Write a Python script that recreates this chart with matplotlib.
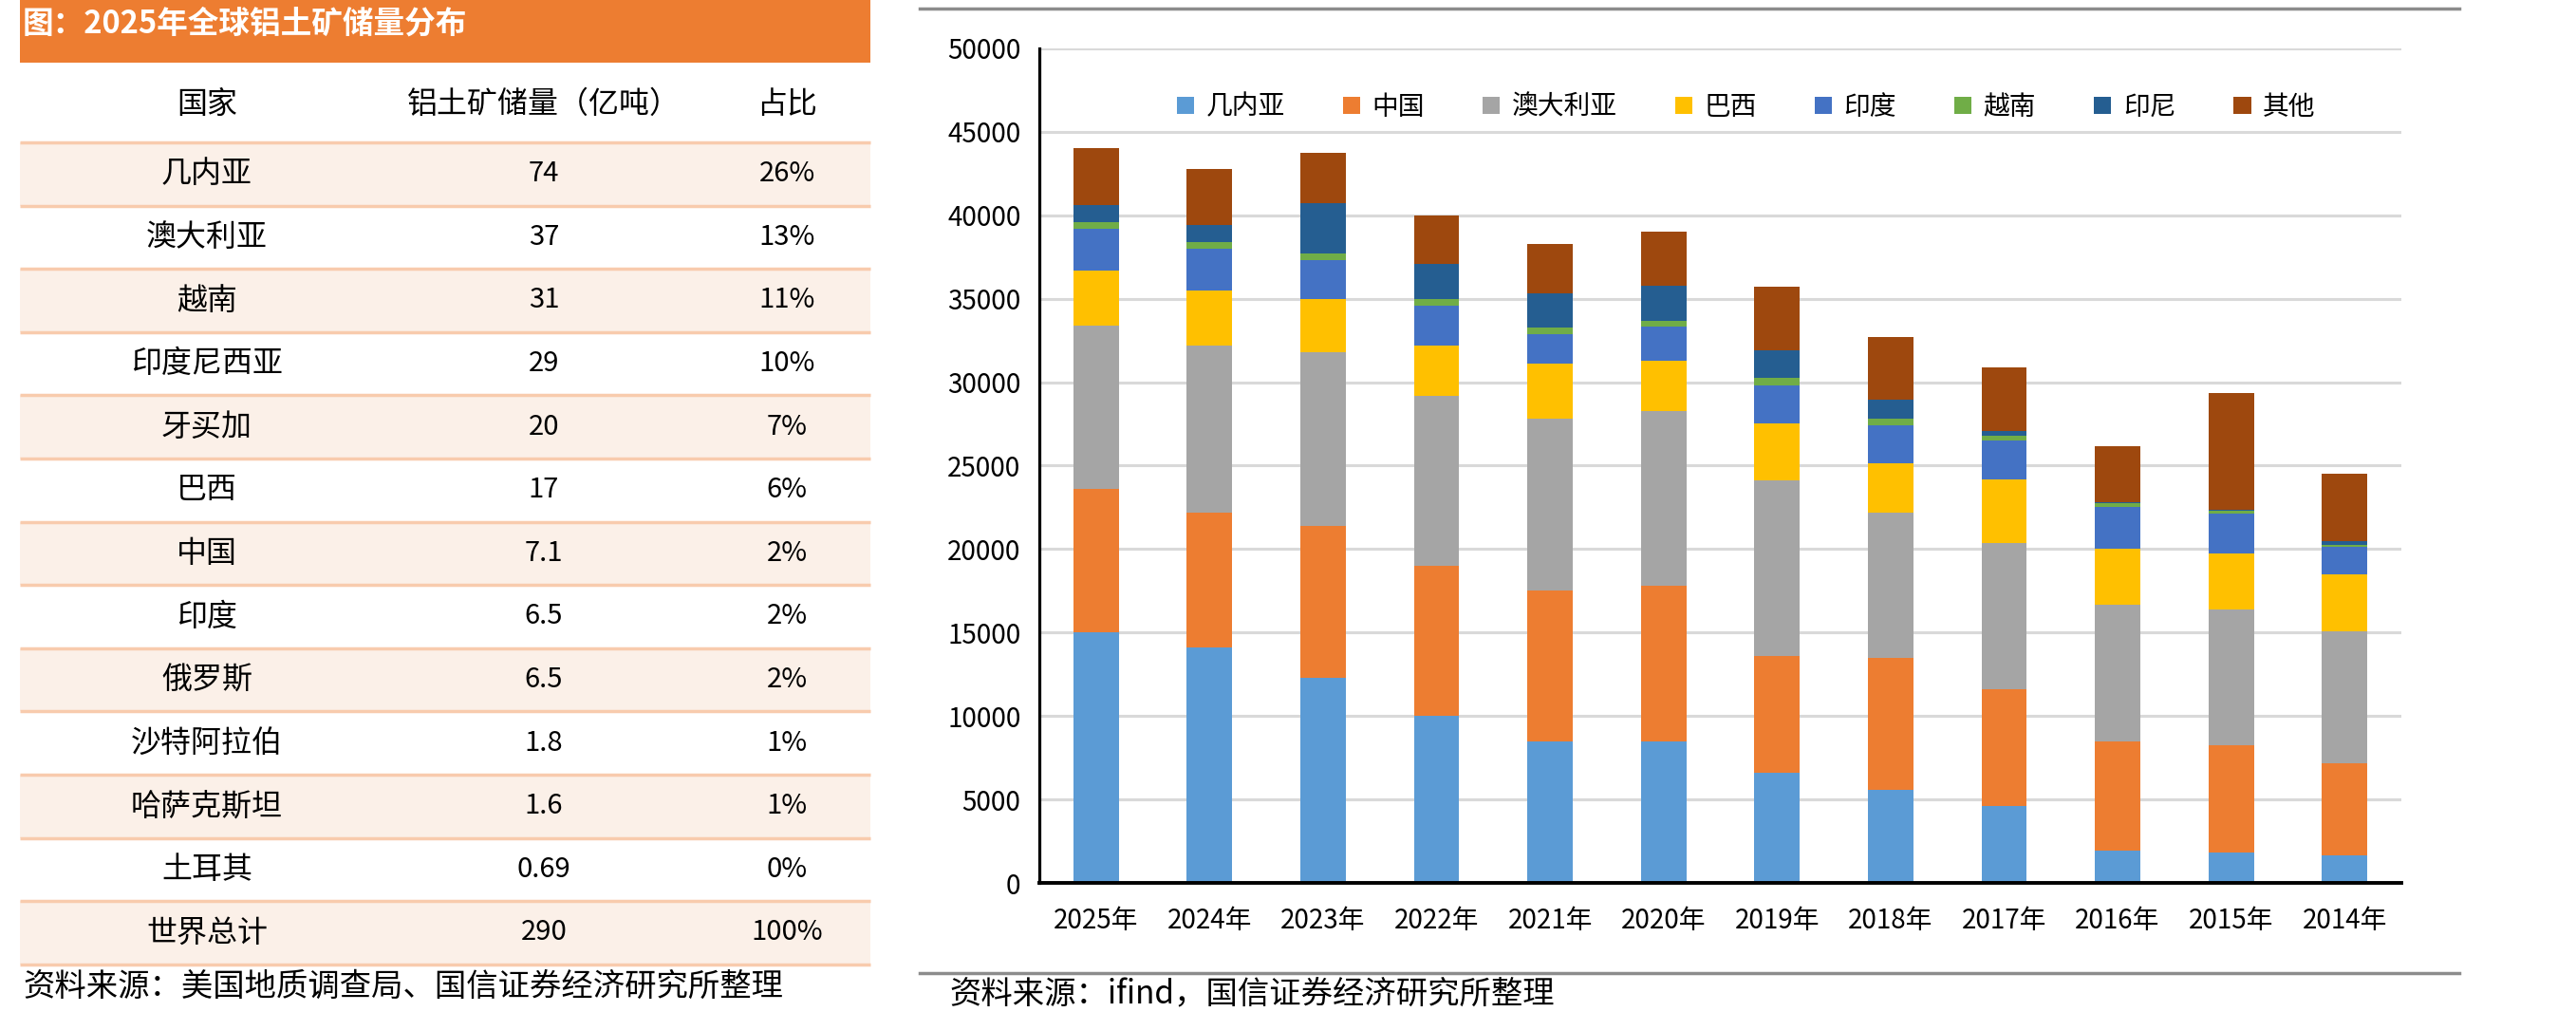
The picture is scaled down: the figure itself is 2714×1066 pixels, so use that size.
import numpy as np
import matplotlib
matplotlib.use("Agg")
import matplotlib.pyplot as plt
from matplotlib.patches import Rectangle

plt.rcParams['font.family'] = ['Noto Sans CJK SC', 'DejaVu Sans']

# table data (2025 bauxite reserves)
countries = ['几内亚', '澳大利亚', '越南', '印度尼西亚', '牙买加', '巴西', '中国',
             '印度', '俄罗斯', '沙特阿拉伯', '哈萨克斯坦', '土耳其', '世界总计']
reserves = ['74', '37', '31', '29', '20', '17', '7.1', '6.5', '6.5', '1.8', '1.6', '0.69', '290']
shares = ['26%', '13%', '11%', '10%', '7%', '6%', '2%', '2%', '2%', '1%', '1%', '0%', '100%']
headers = ['国家', '铝土矿储量（亿吨）', '占比']

# stacked bar data
years = ['2025年', '2024年', '2023年', '2022年', '2021年', '2020年',
         '2019年', '2018年', '2017年', '2016年', '2015年', '2014年']
guinea = [15000, 14100, 12300, 10000, 8500, 8500, 6600, 5600, 4600, 1950, 1800, 1650]
china = [8600, 8100, 9100, 9000, 9000, 9300, 7000, 7900, 7000, 6500, 6450, 5500]
australia = [9800, 10000, 10400, 10200, 10300, 10450, 10500, 8700, 8750, 8200, 8150, 7900]
brazil = [3300, 3300, 3200, 3000, 3300, 3050, 3450, 2950, 3850, 3400, 3350, 3450]
india = [2500, 2500, 2300, 2400, 1750, 2050, 2250, 2250, 2300, 2500, 2400, 1650]
vietnam = [400, 400, 400, 400, 400, 350, 450, 400, 300, 200, 150, 120]
indonesia = [1000, 1000, 3000, 2100, 2100, 2100, 1650, 1150, 300, 60, 40, 220]
other = [3400, 3400, 3050, 2900, 2950, 3250, 3800, 3750, 3800, 3350, 7000, 4000]

series_names = ['几内亚', '中国', '澳大利亚', '巴西', '印度', '越南', '印尼', '其他']
series = [guinea, china, australia, brazil, india, vietnam, indonesia, other]
colors = ['#5B9BD5', '#ED7D31', '#A5A5A5', '#FFC000', '#4472C4', '#70AD47', '#255E91', '#9E480E']

W, H = 2714, 1066
fig = plt.figure(figsize=(W / 100, H / 100), dpi=100)

# background layer in pixel coords for the table and frame lines
bg = fig.add_axes([0, 0, 1, 1])
bg.set_xlim(0, W)
bg.set_ylim(H, 0)
bg.axis('off')

# title bar
bg.add_patch(Rectangle((21, 0), 896, 66, color='#ED7D31', lw=0))
bg.text(24, 25, '图：2025年全球铝土矿储量分布', color='white', fontsize=23.5,
        fontweight='bold', va='center', ha='left')

col_x = [218, 573, 829]
for x, h in zip(col_x, headers):
    bg.text(x, 110, h, fontsize=23, ha='center', va='center')

row_top = 150
row_h = 66.6
for i in range(len(countries)):
    y0 = row_top + i * row_h
    if i % 2 == 0:
        bg.add_patch(Rectangle((21, y0), 896, row_h, color='#FBF0E8', lw=0))
    bg.plot([21, 917], [y0, y0], color='#F8CBAD', lw=2.5, solid_capstyle='butt')
    yc = y0 + row_h / 2
    bg.text(col_x[0], yc, countries[i], fontsize=23, ha='center', va='center')
    bg.text(col_x[1], yc, reserves[i], fontsize=21, ha='center', va='center')
    bg.text(col_x[2], yc, shares[i], fontsize=21, ha='center', va='center')
yb = row_top + len(countries) * row_h
bg.plot([21, 917], [yb, yb], color='#F8CBAD', lw=2.5, solid_capstyle='butt')
bg.text(24, 1039, '资料来源：美国地质调查局、国信证券经济研究所整理', fontsize=24,
        ha='left', va='center')

# frame lines around chart
bg.plot([969, 2591], [9, 9], color='#8C8C8C', lw=2.5)
bg.plot([969, 2591], [1025, 1025], color='#8C8C8C', lw=2.5)
bg.text(1000, 1064, '资料来源：ifind，国信证券经济研究所整理', fontsize=24,
        ha='left', va='bottom')

# stacked bar chart
ax = fig.add_axes([1095 / W, (H - 930) / H, 1435 / W, 879 / H])
x = np.arange(len(years))
bottom = np.zeros(len(years))
for name, vals, c in zip(series_names, series, colors):
    vals = np.array(vals, dtype=float)
    ax.bar(x, vals, 0.4, bottom=bottom, color=c, label=name, lw=0, zorder=3)
    bottom += vals

ax.set_xlim(-0.5, len(years) - 0.5)
ax.set_ylim(0, 50000)
ax.set_yticks(np.arange(0, 50001, 5000))
ax.set_xticks(x)
ax.set_xticklabels(years)
ax.tick_params(axis='y', length=0, pad=14, labelsize=20)
ax.tick_params(axis='x', length=0, pad=18, labelsize=20)
ax.grid(axis='y', color='#D9D9D9', lw=2.2, zorder=0)
for s in ['top', 'right']:
    ax.spines[s].set_visible(False)
ax.spines['left'].set_linewidth(2.3)
ax.spines['bottom'].set_linewidth(2.8)
ax.spines['left'].set_zorder(5)
ax.spines['bottom'].set_zorder(5)
ax.patch.set_alpha(0)

ax.legend(loc='center', bbox_to_anchor=(0.519, 0.93), ncol=8, frameon=False,
          fontsize=20, handlelength=0.65, handleheight=0.65, handletextpad=0.45,
          columnspacing=2.2)

fig.savefig('out.png', dpi=100)
